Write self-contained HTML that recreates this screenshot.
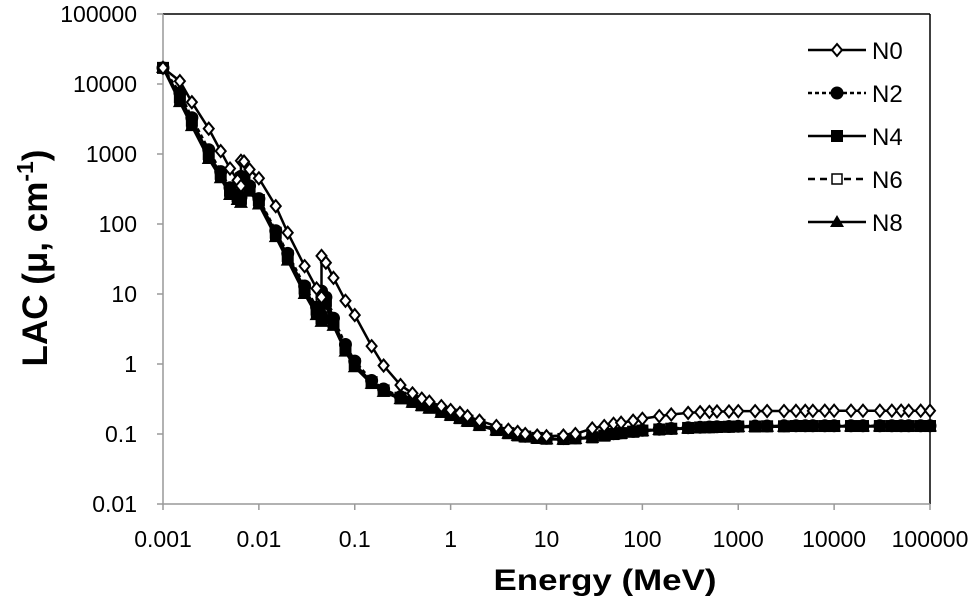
<!DOCTYPE html>
<html><head><meta charset="utf-8"><style>
html,body{margin:0;padding:0;background:#fff;}
svg{display:block;font-family:"Liberation Sans",sans-serif;}
</style></head><body>
<svg id="chart" width="971" height="614" viewBox="0 0 971 614"></svg>
<script>
const energies=[0.001,0.0015,0.002,0.003,0.004,0.005,0.006,0.0065,0.0065,0.007,0.008,0.01,0.015,0.02,0.03,0.04,0.045,0.045,0.05,0.06,0.08,0.1,0.15,0.2,0.3,0.4,0.5,0.6,0.8,1,1.25,1.5,2,3,4,5,6,8,10,15,20,30,40,50,60,80,100,150,200,300,400,500,600,800,1000,1500,2000,3000,4000,5000,6000,8000,10000,15000,20000,30000,40000,50000,60000,80000,100000];
const n0=[17000,11000,5500,2300,1100,620,420,350,800,780,600,450,180,75,25,12,9,35,28,17,8,5,1.8,0.95,0.5,0.38,0.32,0.29,0.25,0.22,0.2,0.18,0.155,0.13,0.115,0.107,0.1,0.095,0.093,0.095,0.1,0.12,0.13,0.14,0.145,0.155,0.165,0.18,0.19,0.2,0.205,0.207,0.21,0.21,0.212,0.212,0.213,0.213,0.214,0.214,0.214,0.215,0.215,0.215,0.215,0.215,0.215,0.215,0.215,0.215,0.215];
const n2=[17000,7500,3300,1150,560,330,260,240,480,460,350,230,80,38,13,6.5,5,11,9,4.5,1.9,1.1,0.58,0.44,0.34,0.3,0.27,0.245,0.215,0.195,0.175,0.16,0.138,0.117,0.105,0.098,0.093,0.089,0.087,0.086,0.088,0.092,0.097,0.101,0.104,0.109,0.113,0.117,0.12,0.123,0.125,0.126,0.127,0.128,0.129,0.13,0.13,0.131,0.131,0.131,0.131,0.131,0.131,0.131,0.131,0.131,0.131,0.131,0.131,0.131,0.131];
const n4=[17000,6500,3000,1000,520,300,250,230,450,430,330,220,75,35,12,6,4.5,10,8,4,1.7,1,0.55,0.42,0.33,0.29,0.26,0.24,0.21,0.19,0.17,0.155,0.135,0.115,0.103,0.096,0.092,0.088,0.086,0.085,0.087,0.09,0.095,0.1,0.103,0.108,0.112,0.116,0.119,0.122,0.124,0.125,0.126,0.127,0.128,0.128,0.129,0.129,0.13,0.13,0.13,0.13,0.13,0.13,0.13,0.13,0.13,0.13,0.13,0.13,0.13];
const n6=[17000,6000,2700,900,480,280,230,210,400,390,300,200,68,32,11,5.5,4.2,9,7.5,3.7,1.6,0.95,0.53,0.41,0.32,0.285,0.255,0.235,0.205,0.185,0.167,0.152,0.133,0.113,0.102,0.095,0.091,0.087,0.085,0.084,0.086,0.089,0.094,0.099,0.102,0.107,0.111,0.115,0.118,0.121,0.123,0.124,0.125,0.126,0.127,0.127,0.128,0.128,0.129,0.129,0.129,0.129,0.129,0.129,0.129,0.129,0.129,0.129,0.129,0.129,0.129];
const n8=[17000,5500,2500,850,450,260,220,200,380,370,290,190,65,30,10,5,4,8,7,3.5,1.5,0.9,0.52,0.4,0.315,0.28,0.25,0.23,0.2,0.182,0.165,0.15,0.131,0.112,0.101,0.094,0.09,0.086,0.084,0.083,0.085,0.088,0.093,0.098,0.101,0.106,0.11,0.114,0.117,0.12,0.122,0.123,0.124,0.125,0.126,0.126,0.127,0.127,0.128,0.128,0.128,0.128,0.128,0.128,0.128,0.128,0.128,0.128,0.128,0.128,0.128];
const xTicks=["0.001","0.01","0.1","1","10","100","1000","10000","100000"];
const yTicks=["0.01","0.1","1","10","100","1000","10000","100000"];
const seriesNames=["N0","N2","N4","N6","N8"];

const svg=document.getElementById('chart');
const NS='http://www.w3.org/2000/svg';
const X0=163,X1=930,Y0=504,Y1=14;
function xs(v){return X0+(Math.log10(v)+3)/8*(X1-X0);}
function ys(v){return Y0-(Math.log10(v)+2)/7*(Y0-Y1);}
function mk(tag,attrs,parent){const e=document.createElementNS(NS,tag);for(const k in attrs)e.setAttribute(k,attrs[k]);(parent||svg).appendChild(e);return e;}

let f=mk('line',{x1:X0,y1:Y1,x2:X1,y2:Y1,stroke:'#000','stroke-width':1.5});


f=mk('line',{x1:X1,y1:Y1,x2:X1,y2:Y0,stroke:'#000','stroke-width':1.5});


f=mk('line',{x1:X0,y1:Y1,x2:X0,y2:Y0,stroke:'#999','stroke-width':1.5});


f=mk('line',{x1:X0,y1:Y0,x2:X1,y2:Y0,stroke:'#999','stroke-width':1.5});



xTicks.forEach(t=>{const x=xs(parseFloat(t));
 const l=mk('line',{x1:x,y1:Y0,x2:x,y2:Y0+6,stroke:'#999','stroke-width':1.5});
 
 
 const tx=mk('text',{x:x,y:Y0+43,'text-anchor':'middle','font-size':23,fill:'#000'});tx.textContent=t;
 
 });
yTicks.forEach(t=>{const y=ys(parseFloat(t));
 const l=mk('line',{x1:X0-6,y1:y,x2:X0,y2:y,stroke:'#999','stroke-width':1.5});
 
 
 const tx=mk('text',{x:X0-26,y:y+8,'text-anchor':'end','font-size':23,fill:'#000'});tx.textContent=t;
 
 });

let xt=mk('text',{x:605,y:590,'text-anchor':'middle','font-size':30,'font-weight':'bold',textLength:223,lengthAdjust:'spacingAndGlyphs'});xt.textContent='Energy (MeV)';


let yt=mk('text',{x:0,y:0,'text-anchor':'middle','font-size':35,'font-weight':'bold',transform:'translate(47,258) rotate(-90)'});
yt.innerHTML='LAC (μ, cm<tspan font-size="23" dy="-14">-1</tspan><tspan dy="14">)</tspan>';



function marker(type,x,y,g){
 let e;
 if(type==='diamond')e=mk('polygon',{points:`${x},${y-6} ${x+5},${y} ${x},${y+6} ${x-5},${y}`,fill:'#fff',stroke:'#000','stroke-width':2},g);
 else if(type==='circle')e=mk('circle',{cx:x,cy:y,r:6.5,fill:'#000'},g);
 else if(type==='square')e=mk('rect',{x:x-6,y:y-6,width:12,height:12,fill:'#000'},g);
 else if(type==='osquare')e=mk('rect',{x:x-5,y:y-5,width:10,height:10,fill:'#fff',stroke:'#000','stroke-width':1.5},g);
 else e=mk('polygon',{points:`${x},${y-7} ${x+7},${y+5} ${x-7},${y+5}`,fill:'#000'},g);
 return e;
}
const seriesVals=[n0,n2,n4,n6,n8];
const types=['diamond','circle','square','osquare','triangle'];
const dashes=['none','4,3','none','7,5','none'];
const order=[3,4,1,2,0];
order.forEach(i=>{
 const g=mk('g',{});
 
 
 const pts=energies.map((e,j)=>xs(e)+','+ys(seriesVals[i][j])).join(' ');
 mk('polyline',{points:pts,fill:'none',stroke:'#000','stroke-width':2.5,'stroke-dasharray':dashes[i]},g);
 energies.forEach((e,j)=>{const m=marker(types[i],xs(e),ys(seriesVals[i][j]),g);
  
  });
});

const lg=mk('g',{});


seriesNames.forEach((n,i)=>{
 const y=50+i*43;
 const g=mk('g',{},lg);
 
 
 mk('line',{x1:808,y1:y,x2:866,y2:y,stroke:'#000','stroke-width':2.5,'stroke-dasharray':dashes[i]},g);
 marker(types[i],837,y,g);
 const t=mk('text',{x:872,y:y+9,'font-size':24},g);t.textContent=n;
});
</script>
</body></html>
